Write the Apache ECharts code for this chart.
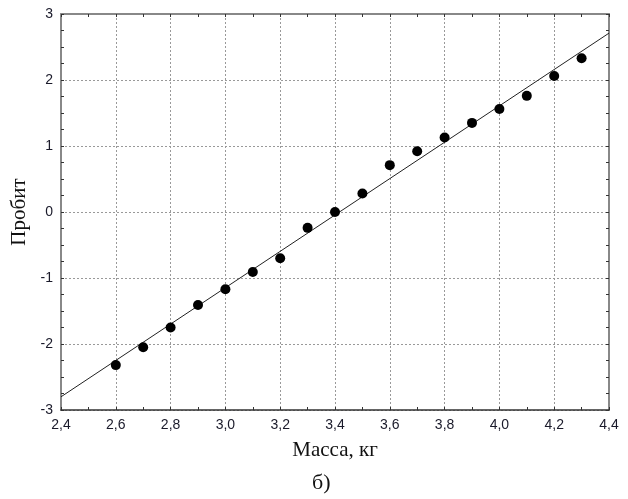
<!DOCTYPE html>
<html><head><meta charset="utf-8">
<script src="https://cdn.jsdelivr.net/npm/echarts@6/dist/echarts.min.js"></script>
<style>html,body{margin:0;padding:0;background:#fff}#c{width:628px;height:499px}</style>
</head><body><div id="c"></div>
<script>
var massX = [2.6, 2.7, 2.8, 2.9, 3.0, 3.1, 3.2, 3.3, 3.4, 3.5, 3.6, 3.7, 3.8, 3.9, 4.0, 4.1, 4.2, 4.3];
var probit = [-2.32, -2.05, -1.75, -1.41, -1.17, -0.91, -0.70, -0.24, 0.00, 0.28, 0.71, 0.92, 1.13, 1.35, 1.56, 1.76, 2.06, 2.33];
var fitX = [2.4, 4.4];
var fitY = [-2.80, 2.71];
var xTitle = 'Масса, кг';
var yTitle = 'Пробит';
var caption = 'б)';

var chart = echarts.init(document.getElementById('c'));
var fmt = function (v) { return (Math.round(v * 10) / 10).toFixed(1).replace('.', ','); };
var lblFont = { fontFamily: 'Liberation Sans', fontSize: 14, color: '#1a1a2a' };
var serif = 'Liberation Serif';
var gridX = { left: 61, right: 19, top: 14, bottom: 89 };

function xAxisDef(pos, show) {
  return {
    type: 'value', position: pos, min: 2.4, max: 4.4, interval: 0.2,
    axisLine: { show: true, onZero: false, lineStyle: { color: pos === 'bottom' ? '#333' : '#888', width: pos === 'bottom' ? 1.5 : 2 } },
    axisTick: { show: true, inside: true, length: 3, lineStyle: { color: '#333' } },
    minorTick: { show: true, splitNumber: 2, length: 3, lineStyle: { color: '#333' } },
    splitLine: { show: show, lineStyle: { color: '#999', type: [2, 2], width: 1 } },
    axisLabel: { show: show, formatter: fmt, margin: 8, fontFamily: lblFont.fontFamily, fontSize: lblFont.fontSize, color: lblFont.color },
    name: show ? xTitle : '', nameLocation: 'middle', nameGap: 30,
    nameTextStyle: { fontFamily: serif, fontSize: 21, color: '#111' }
  };
}
function yAxisDef(pos, show) {
  return {
    type: 'value', position: pos, min: -3, max: 3, interval: 1,
    axisLine: { show: true, onZero: false, lineStyle: { color: '#888', width: 2 } },
    axisTick: { show: true, inside: true, length: 3, lineStyle: { color: '#333' } },
    minorTick: { show: true, splitNumber: 4, length: 3, lineStyle: { color: '#333' } },
    splitLine: { show: show, lineStyle: { color: '#999', type: [2, 2], width: 1 } },
    axisLabel: { show: show, margin: 8, fontFamily: lblFont.fontFamily, fontSize: lblFont.fontSize, color: lblFont.color },
    name: show ? yTitle : '', nameLocation: 'middle', nameGap: 26, nameRotate: 90,
    nameTextStyle: { fontFamily: serif, fontSize: 21, color: '#111' }
  };
}

chart.setOption({
  animation: false,
  backgroundColor: '#fff',
  grid: gridX,
  title: { text: caption, left: 312, top: 472, padding: 0, textStyle: { fontFamily: serif, fontSize: 22, fontWeight: 'normal', color: '#111' } },
  xAxis: [xAxisDef('bottom', true), xAxisDef('top', false)],
  yAxis: [yAxisDef('left', true), yAxisDef('right', false)],
  series: [
    { type: 'line', data: fitX.map(function (x, i) { return [x, fitY[i]]; }), symbol: 'none',
      lineStyle: { color: '#222', width: 1 }, z: 2 },
    { type: 'scatter', data: massX.map(function (x, i) { return [x, probit[i]]; }),
      symbol: 'circle', symbolSize: 10, itemStyle: { color: '#000', opacity: 1 }, z: 3 }
  ]
});
</script></body></html>
